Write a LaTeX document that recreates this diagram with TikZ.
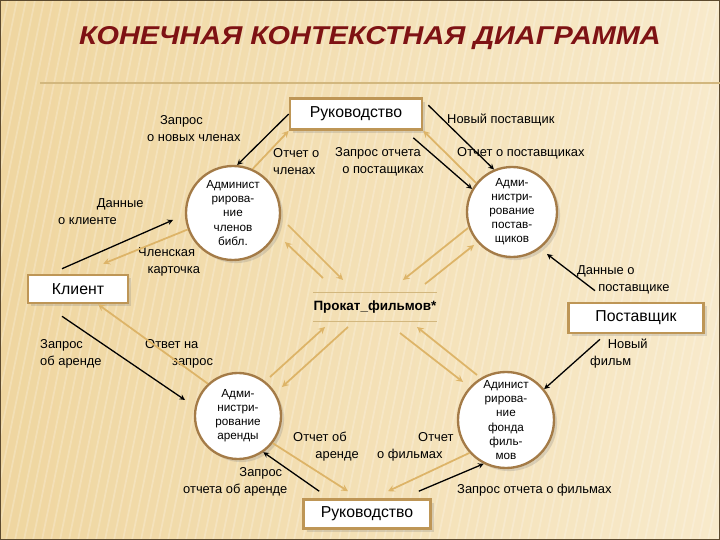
\documentclass[tikz,border=0pt]{standalone}
\usepackage{fontspec}
\setmainfont{Liberation Sans}
\newfontfamily\titlefont[FakeStretch=1.12]{Liberation Sans}
\usetikzlibrary{calc, shadows}

\definecolor{bgleft}{HTML}{EFD6A0}
\definecolor{bgright}{HTML}{F8EACB}
\definecolor{framecol}{HTML}{5C4A2E}
\definecolor{titlered}{HTML}{7E1214}
\definecolor{boxedge}{HTML}{BE9656}
\definecolor{circedge}{HTML}{A47B47}
\definecolor{flowtan}{HTML}{DDB468}
\definecolor{rulecol}{HTML}{D2B77E}

\tikzset{
	extbox/.style={draw=boxedge, line width=2.2pt, fill=white, drop shadow={opacity=0.25}, font=\fontsize{13.5}{16}\selectfont, inner sep=0pt},
	proc/.style={circle, draw=circedge, line width=2pt, fill=white, drop shadow={opacity=0.25}, align=center, inner sep=0pt, font=\fontsize{10}{12}\selectfont},
	lbl/.style={font=\fontsize{11}{14.5}\selectfont, align=left, inner sep=0pt, anchor=west},
	blk/.style={black, line width=1.1pt, -stealth},
	flow/.style={flowtan, line width=1.5pt, -stealth},
}

\begin{document}
\begin{tikzpicture}[x=0.03cm, y=-0.03cm]
		\useasboundingbox (0,0) rectangle (720,540);
		
		% background
		\fill[left color=bgleft, right color=bgright] (0,0) rectangle (720,540);
		\begin{scope}
			\clip (0,0) rectangle (720,540);
			\foreach \i in {-120,-111,...,720}
				\draw[white, opacity=0.22, line width=1.5pt] (\i,540) -- ++(110,-540);
		\end{scope}
		\draw[framecol, line width=2pt] (0,0) rectangle (720,540);
		
		% title
		\node[font=\titlefont\bfseries\itshape\fontsize{22}{26}\selectfont, text=titlered] (title) at (370,38) {КОНЕЧНАЯ КОНТЕКСТНАЯ ДИАГРАММА};
		\draw[rulecol, line width=1pt] (40,83) -- (720,83);
		
		% external entities
		\node[extbox, minimum width=3.96cm, minimum height=0.93cm] (mgmt) at (356,114) {Руководство};
		\node[extbox, minimum width=3.0cm, minimum height=0.84cm] (client) at (78,289) {Клиент};
		\node[extbox, minimum width=4.05cm, minimum height=0.9cm] (supplier) at (636,318) {Поставщик};
		\node[extbox, minimum width=3.81cm, minimum height=0.87cm] (mgmt2) at (367,514) {Руководство};
		
		% processes
		\node[proc, minimum size=2.82cm] (c1) at (233,213) {Админист\\рирова-\\ние\\членов\\библ.};
		\node[proc, minimum size=2.7cm] (c2) at (512,212) {Адми-\\нистри-\\рование\\постав-\\щиков};
		\node[proc, minimum size=2.58cm] (c3) at (238,416) {Адми-\\нистри-\\рование\\аренды};
		\node[proc, minimum size=2.88cm, font=\fontsize{10}{12}\selectfont] (c4) at (506,420) {Адинист\\рирова-\\ние\\фонда\\филь-\\мов};
		
		% data store
		\node[font=\fontsize{11.5}{14}\selectfont\bfseries, minimum height=0.84cm, inner xsep=0pt] (store) at (375,307) {Прокат\_фильмов*};
		\draw[rulecol, line width=0.8pt] (store.north west) -- (store.north east);
		\draw[rulecol, line width=0.8pt] (store.south west) -- (store.south east);
		
		% labels
		\node[lbl] (qNewMem) at (147,128.5) {\hspace*{11pt}Запрос\\о новых членах};
		\node[lbl] (clientData) at (58,211.5) {\hspace*{33pt}Данные\\о клиенте};
		\node[lbl] (card) at (138,261.5) {Членская\\\hspace*{8pt}карточка};
		\node[lbl] (memRep) at (273,161.5) {Отчет о\\членах};
		\node[lbl] (supReq) at (335,161.5) {Запрос отчета\\\hspace*{6pt}о постащиках};
		\node[lbl] (newSup) at (447,120) {Новый поставщик};
		\node[lbl] (supRep) at (457,153) {Отчет о поставщиках};
		\node[lbl] (supData) at (577,280) {Данные о\\\hspace*{18pt}поставщике};
		\node[lbl] (rentReq) at (40,353.5) {Запрос\\об аренде};
		\node[lbl] (answer) at (145,353.5) {Ответ на\\\hspace*{23pt}запрос};
		\node[lbl] (newFilm) at (590,353.5) {\hspace*{15pt}Новый\\фильм};
		\node[lbl] (rentRep) at (293,446.5) {Отчет об\\\hspace*{19pt}аренде};
		\node[lbl] (filmRep) at (377,446.5) {\hspace*{35pt}Отчет\\о фильмах};
		\node[lbl] (rentRepReq) at (183,481.5) {\hspace*{48pt}Запрос\\отчета об аренде};
		\node[lbl] (filmRepReq) at (457,490) {Запрос отчета о фильмах};
		
		% requests and inputs
		\begin{scope}[blk]
			\draw (mgmt.west) -- (c1.85);
			\draw ($(client.north)+(-16,-5)$) -- ($(c1)+(-60,7)$);
			\draw ($(mgmt.north east)+(5,8)$) -- (c2.113);
			\draw ($(mgmt.south east)+(-10,7)$) -- (c2.150);
			\draw ($(supplier.north)+(-41,-11)$) -- ($(c2)+(35,42)$);
			\draw ($(client.south)+(-16,12)$) -- ($(c3)+(-53,-16)$);
			\draw ($(mgmt2.north west)+(17,-7)$) -- (c3.-55);
			\draw ($(supplier.south)+(-36,5)$) -- (c4.39);
			\draw ($(mgmt2.north east)+(-13,-7)$) -- (c4.243);
		\end{scope}
		
		% reports and outputs
		\begin{scope}[flow]
			\draw (c1.66) -- (mgmt.south west);
			\draw (c2.141) -- (mgmt.south east);
			\draw (c1.200) -- ($(client.north east)+(-26,-10)$);
			\draw (c3.133) -- ($(client.south)+(20,0)$);
			\draw (c3.-38) -- ($(mgmt2.north)+(-19,-7)$);
			\draw (c4.222) -- ($(mgmt2.north)+(21,-7)$);
		\end{scope}
		
		% store access
		\begin{scope}[flow]
			\draw ($(c1)+(55,12)$) -- ($(store)+(-32,-27)$);
			\draw ($(store)+(-52,-29)$) -- ($(c1)+(52,29)$);
			\draw ($(c2)+(-44,16)$) -- ($(store)+(28,-27)$);
			\draw ($(store)+(50,-23)$) -- ($(c2)+(-38,33)$);
			\draw ($(c3)+(32,-39)$) -- ($(store)+(-50,20)$);
			\draw ($(store)+(-27,20)$) -- ($(c3)+(44,-29)$);
			\draw ($(c4)+(-29,-45)$) -- ($(store)+(42,20)$);
			\draw ($(store)+(25,26)$) -- ($(c4)+(-43,-38)$);
		\end{scope}
	\end{tikzpicture}
\end{document}
